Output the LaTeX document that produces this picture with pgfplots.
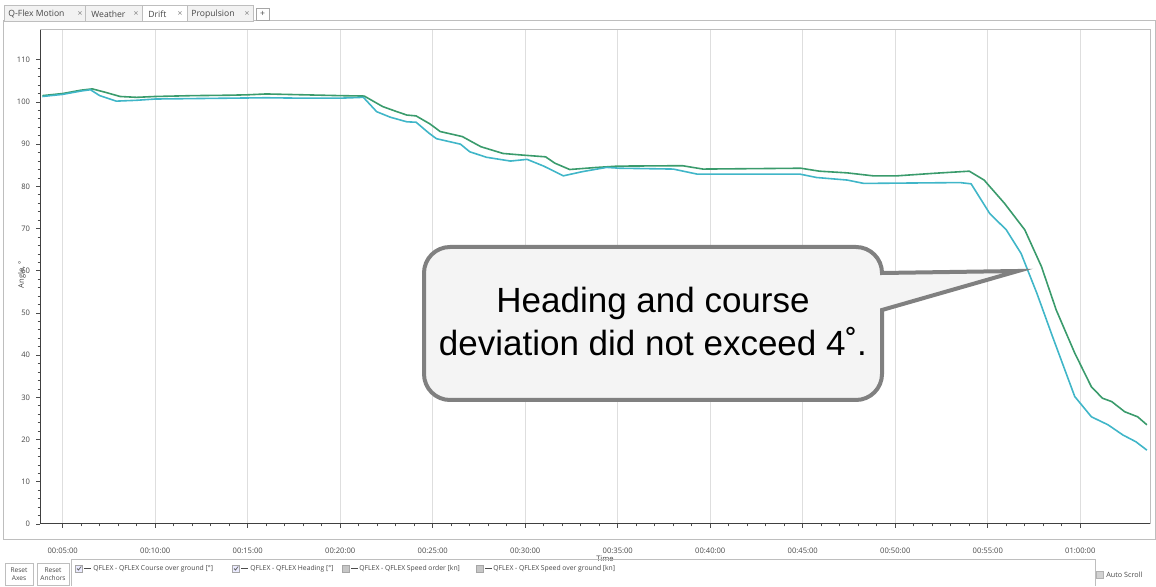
\documentclass[border=0pt]{standalone}
\usepackage{fontspec}
\setmainfont{Liberation Sans}
\newfontfamily\uifont{Open Sans}
\usepackage{pgfplots}
\pgfplotsset{compat=1.18}
\definecolor{cog}{RGB}{58,155,108}
\definecolor{hdg}{RGB}{64,182,200}
\definecolor{gridc}{RGB}{222,222,222}
\definecolor{uiline}{RGB}{190,190,190}
\definecolor{uitext}{RGB}{70,70,70}
\definecolor{calloutline}{RGB}{128,128,128}
\definecolor{calloutfill}{RGB}{244,244,244}
\newcommand{\uitiny}{\uifont\fontsize{3.8bp}{4.4bp}\selectfont}
\newcommand{\tabf}{\uifont\fontsize{4.3bp}{5bp}\selectfont}

\pgfplotstableread{
t v
3.9 101.5
5.0 102.0
6.0 102.8
6.6 103.1
7.3 102.3
8.1 101.3
9.0 101.1
10.0 101.3
12.0 101.5
14.0 101.6
15.0 101.7
16.0 101.9
18.0 101.7
20.0 101.5
21.3 101.4
22.3 98.9
23.0 97.8
23.6 96.9
24.1 96.7
24.85 94.8
25.4 93.0
26.6 91.8
27.6 89.4
28.8 87.8
29.9 87.4
31.1 87.0
31.6 85.5
32.4 84.0
33.9 84.5
35.0 84.8
38.5 84.9
39.6 84.1
44.9 84.3
45.9 83.6
47.4 83.2
48.8 82.5
50.1 82.5
52.1 83.1
54.0 83.6
54.8 81.5
55.9 76.0
57.0 69.7
57.9 61.0
58.7 50.7
59.7 40.5
60.6 32.5
61.2 29.8
61.7 29.0
62.4 26.6
63.1 25.4
63.6 23.5
}\cogtable

\pgfplotstableread{
t v
3.9 101.3
5.0 101.8
6.0 102.6
6.5 102.9
7.0 101.5
7.9 100.2
9.0 100.4
10.0 100.7
12.0 100.8
14.0 100.9
16.0 101.0
18.0 100.9
20.0 100.9
21.25 101.1
21.97 97.7
22.7 96.4
23.6 95.3
24.1 95.2
24.8 92.6
25.2 91.3
26.5 90.0
27.0 88.2
27.9 86.9
29.2 86.0
30.1 86.4
31.0 84.8
32.06 82.5
33.1 83.5
34.4 84.5
35.1 84.3
38.0 84.1
39.3 82.9
44.85 82.9
45.75 82.1
47.4 81.5
48.3 80.7
53.5 80.9
54.1 80.6
55.1 73.6
56.0 69.7
56.8 64.1
57.65 54.7
58.5 44.4
59.7 30.2
60.6 25.4
61.5 23.5
62.3 21.1
63.0 19.5
63.6 17.5
}\hdgtable

\begin{document}
\begin{tikzpicture}
\begin{scope}[x=0.5bp,y=0.5bp]
\useasboundingbox (0,0) rectangle (1156,586);
% panel border
\draw[uiline, line width=0.5bp] (3,46) rectangle (1155,565);
% tabs
\foreach \a/\b in {4/85,85/142,187/253}{
  \filldraw[fill=gray!10, draw=uiline, line width=0.4bp] (\a,565) rectangle (\b,581);
}
\filldraw[fill=white, draw=uiline, line width=0.4bp] (142,565) rectangle (187,581);
\filldraw[fill=white, draw=gray!70, line width=0.4bp] (256,566) rectangle (269,578);
\node[anchor=west, inner sep=0, text=uitext, font=\tabf] at (8,572) {Q-Flex Motion};
\node[anchor=west, inner sep=0, text=uitext, font=\tabf] at (91,572) {Weather};
\node[anchor=west, inner sep=0, text=uitext, font=\tabf] at (148,572) {Drift};
\node[anchor=west, inner sep=0, text=uitext, font=\tabf] at (191,572) {Propulsion};
\foreach \x in {80,136,180,247}{\node[inner sep=0, text=gray, font=\tabf] at (\x,572) {×};}
\node[inner sep=0, text=uitext, font=\tabf] at (262.5,572) {+};
% axis labels
\node[rotate=90, inner sep=0, text=uitext, font=\uitiny] at (22,311) {Angle, °};
\node[inner sep=0, text=uitext, font=\uitiny] at (605,27) {Time};
% buttons
\draw[uiline, line width=0.4bp] (5,0.5) rectangle (33,23);
\draw[uiline, line width=0.4bp] (37,0.5) rectangle (69,23);
\node[align=center, inner sep=0, text=uitext, font=\uifont\fontsize{3.3bp}{4.2bp}\selectfont] at (19,12) {Reset\\Axes};
\node[align=center, inner sep=0, text=uitext, font=\uifont\fontsize{3.3bp}{4.2bp}\selectfont] at (53,12) {Reset\\Anchors};
% legend bar
\draw[uiline, line width=0.4bp] (71,0) -- (71,27) -- (1095,27) -- (1095,0);
\foreach \cx/\tx/\lbl/\chk in {79/93/{QFLEX - QFLEX Course over ground [°]}/1,236/250/{QFLEX - QFLEX Heading [°]}/1,346/359/{QFLEX - QFLEX Speed order [kn]}/0,480/493/{QFLEX - QFLEX Speed over ground [kn]}/0}{
  \ifnum\chk=1
    \filldraw[fill=blue!8, draw=gray!70, line width=0.3bp] (\cx-3.5,14) rectangle (\cx+3.5,21);
    \draw[gray!80!black, line width=0.4bp] (\cx-2,17.5) -- (\cx-0.5,16) -- (\cx+2.2,19.5);
  \else
    \filldraw[fill=gray!45, draw=gray!70, line width=0.3bp] (\cx-3.5,14) rectangle (\cx+3.5,21);
  \fi
  \draw[gray!60!black, line width=0.6bp] (\cx+5,17.5) -- (\cx+12,17.5);
  \node[anchor=west, inner sep=0, text=uitext, font=\uifont\fontsize{3.4bp}{4bp}\selectfont] at (\tx,17.5) {\lbl};
}
\filldraw[fill=gray!35, draw=gray!60, line width=0.3bp] (1096,8) rectangle (1103,15);
\node[anchor=west, inner sep=0, text=uitext, font=\uifont\fontsize{3.6bp}{4bp}\selectfont] at (1106,11.5) {Auto Scroll};
\end{scope}

\begin{axis}[
  at={(20bp,31bp)}, anchor=south west,
  scale only axis, width=555bp, height=247bp,
  xmin=3.773, xmax=63.77, ymin=0, ymax=117.06,
  axis x line*=bottom, axis y line*=left,
  axis line style={-, draw=black!75, line width=0.5bp},
  xtick={5,10,...,60},
  xticklabels={00:05:00,00:10:00,00:15:00,00:20:00,00:25:00,00:30:00,00:35:00,00:40:00,00:45:00,00:50:00,00:55:00,01:00:00},
  minor x tick num=4,
  ytick={0,10,...,110},
  minor y tick num=4,
  tick align=outside,
  major tick length=2bp, minor tick length=1.2bp,
  tick style={black!70, line width=0.4bp},
  xmajorgrids, major x grid style={gridc, line width=0.5bp},
  /pgf/number format/assume math mode=true,
  ticklabel style={font=\uitiny, text=uitext},
  xticklabel style={yshift=-6.5bp},
  yticklabel style={xshift=0.5bp},
  clip=false,
]
\addplot[cog, line width=0.8bp] table[x=t,y=v] {\cogtable};
\addplot[hdg, line width=0.8bp] table[x=t,y=v] {\hdgtable};
\end{axis}

\begin{scope}[x=0.5bp,y=0.5bp]
\draw[uiline, line width=0.5bp] (40,556) -- (1150,556) -- (1150,62);
% callout
\filldraw[fill=calloutfill, draw=calloutline, line width=2bp, line join=miter, miter limit=20]
  (450,339) -- (856,339) arc[start angle=90, end angle=0, radius=26]
  -- (1018,315) -- (882,276) -- (882,212) arc[start angle=0, end angle=-90, radius=26]
  -- (450,186) arc[start angle=270, end angle=180, radius=26]
  -- (424,313) arc[start angle=180, end angle=90, radius=26] -- cycle;
\node[align=center, inner sep=0, font=\fontsize{17.5bp}{21.5bp}\selectfont] at (653,264.5)
  {Heading and course\\deviation did not exceed 4˚.};
\end{scope}
\end{tikzpicture}
\end{document}
